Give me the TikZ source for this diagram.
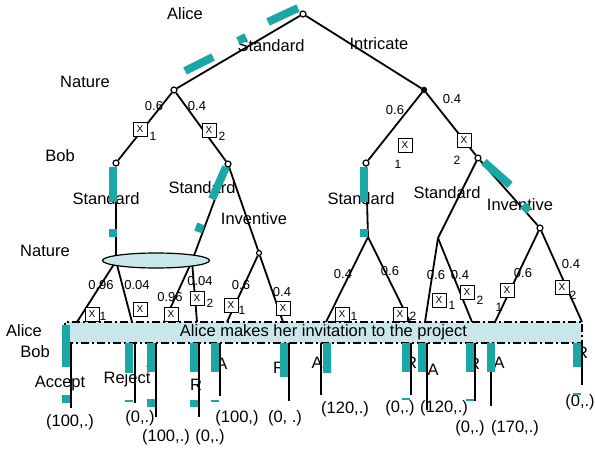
\documentclass[tikz,border=0pt]{standalone}
\usepackage{fontspec}
\setmainfont{Liberation Sans}
\usetikzlibrary{shapes.geometric}
\definecolor{hiteal}{RGB}{26,168,166}
\definecolor{paleblue}{RGB}{200,230,236}

\tikzset{
  choice/.style={circle, draw, line width=1.2pt, fill=white, inner sep=0pt, minimum size=6pt},
  chance/.style={circle, draw, fill=black, inner sep=0pt, minimum size=6pt},
  branch/.style={line width=1.8pt},
  bigtxt/.style={font=\fontsize{16.5}{18}\selectfont, inner sep=0pt},
  smalltxt/.style={font=\fontsize{13}{15}\selectfont, inner sep=0pt},
  subtxt/.style={font=\fontsize{12}{14}\selectfont, inner sep=0pt},
  sig/.style={draw, line width=0.9pt, fill=white, inner sep=0pt, minimum size=14pt, font=\fontsize{10}{10}\selectfont},
  hl/.style={hiteal, line width=8pt},
  hlthin/.style={hiteal, line width=1.5pt},
  infoset/.style={draw, line width=1.5pt, dash pattern=on 8pt off 3pt on 2pt off 3pt, fill=paleblue,
    minimum width=517pt, minimum height=21pt, inner sep=0pt, font=\fontsize{16.5}{18}\selectfont}
}

\begin{document}
\begin{tikzpicture}[x=1pt, y=-1pt]
    \useasboundingbox (0,0) rectangle (595,454);

    \node[choice] (alice) at (303,14) {};
    \node[choice] (natL) at (174,90) {};
    \node[chance] (natR) at (424,90) {};
    \node[choice] (bobLL) at (116,163) {};
    \node[choice] (bobLR) at (228,164) {};
    \node[choice] (bobRL) at (366,163) {};
    \node[choice] (bobRR) at (478,158) {};
    \node[choice, minimum size=5pt] (natLR) at (259,253) {};
    \node[choice] (natRRR) at (540,228) {};
    \coordinate (natRL) at (368,237);
    \coordinate (natRR) at (438,238);
    \coordinate (iL) at (116,261);
    \coordinate (iR) at (192,261);

    \coordinate (t1) at (77,322);   \coordinate (b1) at (71,343);   \coordinate (e1) at (71,408);
    \coordinate (t2) at (132,322);  \coordinate (b2) at (135,343);  \coordinate (e2) at (135,403);
    \coordinate (t3) at (164,322);  \coordinate (b3) at (156,343);  \coordinate (e3) at (156,417);
    \coordinate (t4) at (197,322);  \coordinate (b4) at (199,343);  \coordinate (e4) at (199,417);
    \coordinate (t5) at (227,322);  \coordinate (b5) at (220,343);  \coordinate (e5) at (220,396);
    \coordinate (t6) at (283,322);  \coordinate (b6) at (289,343);  \coordinate (e6) at (289,401);
    \coordinate (t7) at (326,322);  \coordinate (b7) at (321,343);  \coordinate (e7) at (321,395);
    \coordinate (t8) at (410,322);  \coordinate (b8) at (411,343);  \coordinate (e8) at (411,395);
    \coordinate (t9) at (425,322);  \coordinate (b9) at (427,343);  \coordinate (e9) at (427,410);
    \coordinate (t10) at (472,322); \coordinate (b10) at (475,343); \coordinate (e10) at (475,401);
    \coordinate (t11) at (495,322); \coordinate (b11) at (491,343); \coordinate (e11) at (491,406);
    \coordinate (t12) at (582,322); \coordinate (b12) at (582,343); \coordinate (e12) at (582,385);

    \draw[branch] (alice) -- (natL);
    \draw[branch] (alice) -- (natR);
    \draw[branch] (natL) -- (bobLL);
    \draw[branch] (natL) -- (bobLR);
    \draw[branch] (natR) -- (bobRL);
    \draw[branch] (natR) -- (bobRR);
    \draw[branch] (bobLL) -- (iL);
    \draw[branch] (bobLR) -- (iR);
    \draw[branch] (bobLR) -- (natLR);
    \draw[branch] (bobRL) -- (natRL);
    \draw[branch] (bobRR) -- (natRR);
    \draw[branch] (bobRR) -- (natRRR);
    \draw[branch] (iL) -- (t1);
    \draw[branch] (iL) -- (t2);
    \draw[branch] (iR) -- (t3);
    \draw[branch] (iR) -- (t4);
    \draw[branch] (natLR) -- (t5);
    \draw[branch] (natLR) -- (t6);
    \draw[branch] (natRL) -- (t7);
    \draw[branch] (natRL) -- (t8);
    \draw[branch] (natRR) -- (t9);
    \draw[branch] (natRR) -- (t10);
    \draw[branch] (natRRR) -- (t11);
    \draw[branch] (natRRR) -- (t12);
    \draw[branch] (b1) -- (e1);
    \draw[branch] (b2) -- (e2);
    \draw[branch] (b3) -- (e3);
    \draw[branch] (b4) -- (e4);
    \draw[branch] (b5) -- (e5);
    \draw[branch] (b6) -- (e6);
    \draw[branch] (b7) -- (e7);
    \draw[branch] (b8) -- (e8);
    \draw[branch] (b9) -- (e9);
    \draw[branch] (b10) -- (e10);
    \draw[branch] (b11) -- (e11);
    \draw[branch] (b12) -- (e12);

    \node[ellipse, draw, line width=1.2pt, fill=paleblue, minimum width=107pt, minimum height=15pt, inner sep=0pt] (bobset) at (156,260.5) {};

    \node[bigtxt] (lAlice) at (185,14) {Alice};
    \node[bigtxt] (lStd0) at (271,46) {Standard};
    \node[bigtxt] (lIntr) at (379,44) {Intricate};
    \node[bigtxt] (lNat1) at (85,82) {Nature};
    \node[bigtxt] (lBob1) at (60,156) {Bob};
    \node[bigtxt] (lStd1) at (106,199) {Standard};
    \node[bigtxt] (lStd2) at (202,188) {Standard};
    \node[bigtxt] (lInv1) at (254,219) {Inventive};
    \node[bigtxt] (lNat2) at (45,251) {Nature};
    \node[bigtxt] (lStd3) at (361,199) {Standard};
    \node[bigtxt] (lStd4) at (447,193) {Standard};
    \node[bigtxt] (lInv2) at (520,205) {Inventive};
    \node[bigtxt] (lAlice2) at (24,331) {Alice};
    \node[bigtxt] (lBob2) at (35,352) {Bob};
    \node[bigtxt] (lAcc) at (60,384) {Accept};
    \node[bigtxt] (lRej) at (127,379) {Reject};

    \node[bigtxt] (a3) at (152,362) {A};
    \node[bigtxt] (r4) at (196,385) {R};
    \node[bigtxt] (a5) at (222,364) {A};
    \node[bigtxt] (r6) at (279,368) {R};
    \node[bigtxt] (a7) at (317,363) {A};
    \node[bigtxt] (r8) at (411,363) {R};
    \node[bigtxt] (a9) at (433,370) {A};
    \node[bigtxt] (r10) at (474,364) {R};
    \node[bigtxt] (a11) at (499,363) {A};
    \node[bigtxt] (r12) at (582,353) {R};

    \node[bigtxt] (p1) at (70,422) {(100,.)};
    \node[bigtxt] (p2) at (140,418) {(0,.)};
    \node[bigtxt] (p3) at (166,437) {(100,.)};
    \node[bigtxt] (p4) at (210,437) {(0,.)};
    \node[bigtxt] (p5) at (237,418) {(100,)};
    \node[bigtxt] (p6) at (285,418) {(0, .)};
    \node[bigtxt] (p7) at (345,409) {(120,.)};
    \node[bigtxt] (p8) at (400,408) {(0,.)};
    \node[bigtxt] (p9) at (444,408) {(120,.)};
    \node[bigtxt] (p10) at (470,428) {(0,.)};
    \node[bigtxt] (p11) at (515,428) {(170,.)};
    \node[bigtxt] (p12) at (580,402) {(0,.)};

    \node[smalltxt] (q1) at (154,106) {0.6};
    \node[smalltxt] (q2) at (197,106) {0.4};
    \node[smalltxt] (q3) at (395,110) {0.6};
    \node[smalltxt] (q4) at (452,99) {0.4};
    \node[smalltxt] (q5) at (101,285) {0.96};
    \node[smalltxt] (q6) at (137,285) {0.04};
    \node[smalltxt] (q7) at (170,297) {0.96};
    \node[smalltxt] (q8) at (200,281) {0.04};
    \node[smalltxt] (q9) at (241,285) {0.6};
    \node[smalltxt] (q10) at (282,292) {0.4};
    \node[smalltxt] (q11) at (343,274) {0.4};
    \node[smalltxt] (q12) at (390,271) {0.6};
    \node[smalltxt] (q13) at (436,275) {0.6};
    \node[smalltxt] (q14) at (460,275) {0.4};
    \node[smalltxt] (q15) at (523,273) {0.6};
    \node[smalltxt] (q16) at (571,264) {0.4};

    \node[sig] (s1) at (140,129) {X};   \node[subtxt] (n1) at (153,136) {1};
    \node[sig] (s2) at (209,130) {X};   \node[subtxt] (n2) at (222,136) {2};
    \node[sig] (s3) at (405,145) {X};   \node[subtxt] (n3) at (398,164) {1};
    \node[sig] (s4) at (464,140) {X};   \node[subtxt] (n4) at (457,160) {2};
    \node[sig] (s5) at (92,314) {X};    \node[subtxt] (n5) at (103,316) {1};
    \node[sig] (s6) at (140,309) {X};
    \node[sig] (s7) at (171,314) {X};
    \node[sig] (s8) at (197,298) {X};   \node[subtxt] (n8) at (210,303) {2};
    \node[sig] (s9) at (231,305) {X};   \node[subtxt] (n9) at (242,310) {1};
    \node[sig] (s10) at (283,308) {X};
    \node[sig] (s11) at (342,314) {X};  \node[subtxt] (n11) at (354,316) {1};
    \node[sig] (s12) at (400,314) {X};  \node[subtxt] (n12) at (413,316) {2};
    \node[sig] (s13) at (439,300) {X};  \node[subtxt] (n13) at (452,305) {1};
    \node[sig] (s14) at (467,292) {X};  \node[subtxt] (n14) at (480,300) {2};
    \node[sig] (s15) at (507,290) {X};  \node[subtxt] (n15) at (499,307) {1};
    \node[sig] (s16) at (562,287) {X};  \node[subtxt] (n16) at (573,295) {2};

    \node[infoset] (aliceset) at (323.5,332.5) {Alice makes her invitation to the project};

    \draw[hl] (268,22) -- (298,8);
    \draw[hl] (238,41) -- (246,37);
    \draw[hl] (185,71) -- (213,57);
    \draw[hl] (113,167) -- (113,202);
    \draw[hl] (113,229) -- (113,237);
    \draw[hl] (226,167) -- (212,199);
    \draw[hl] (201,224) -- (198,232);
    \draw[hl] (363.5,167) -- (363.5,202);
    \draw[hl] (363.5,229) -- (363.5,237);
    \draw[hl] (484,162) -- (510,185);
    \draw[hl] (523,205) -- (529,211);

    \draw[hl] (66,325) -- (66,367);
    \draw[hl] (66,395) -- (66,403);
    \draw[hl] (129,343) -- (129,373);
    \draw[hlthin] (125,401) -- (133,401);
    \draw[hl] (151,343) -- (151,372);
    \draw[hl] (151,399) -- (151,407);
    \draw[hl] (193.5,343) -- (193.5,372);
    \draw[hl] (193.5,400) -- (193.5,407);
    \draw[hl] (215,343) -- (215,372);
    \draw[hlthin] (211,401) -- (219,401);
    \draw[hl] (283.5,343) -- (283.5,377);
    \draw[hl] (326.5,343) -- (326.5,373);
    \draw[hl] (406,343) -- (406,372);
    \draw[hlthin] (402,399) -- (410,399);
    \draw[hl] (422,343) -- (422,372);
    \draw[hl] (470,343) -- (470,372);
    \draw[hlthin] (466,400) -- (474,400);
    \draw[hl] (491,343) -- (491,372);
    \draw[hl] (577,343) -- (577,367);
    \draw[hlthin] (573,394) -- (581,394);

\end{tikzpicture}
\end{document}
